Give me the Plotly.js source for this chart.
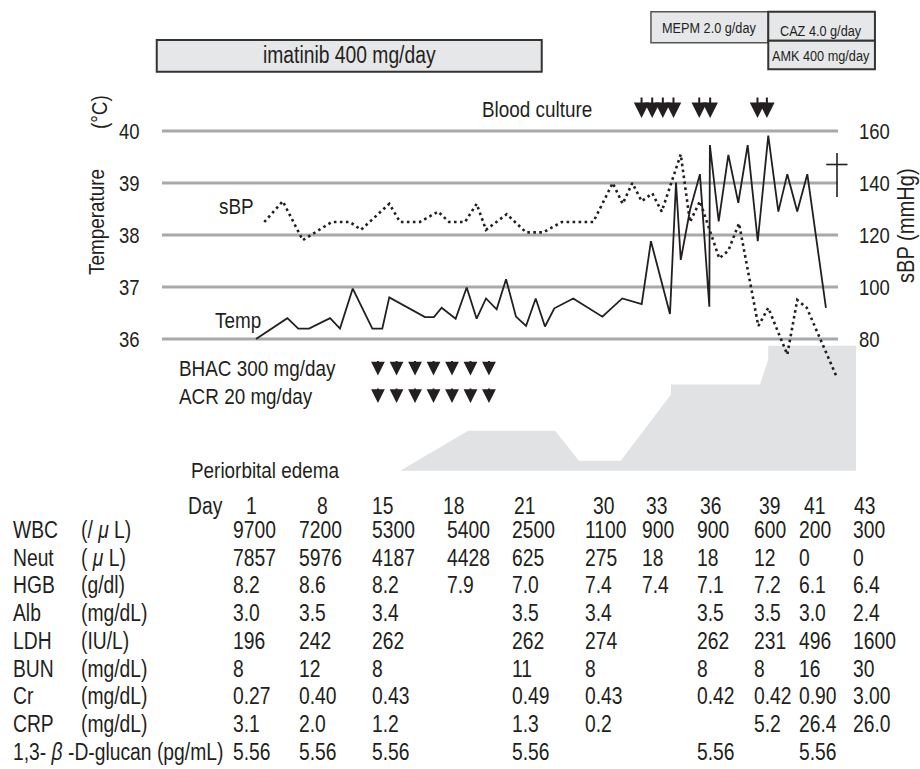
<!DOCTYPE html>
<html><head><meta charset="utf-8">
<script src="https://cdn.plot.ly/plotly-3.0.1.min.js"></script>
<style>html,body{margin:0;padding:0;background:#fff}</style>
</head><body><div id="chart" style="width:920px;height:769px"></div>
<script>
// ---------------- data ----------------
const tempDays = [1.0, 3.24, 4.02, 4.79, 6.29, 7.0, 7.91, 9.31, 10.02, 10.52, 13.07, 13.71, 14.26, 15.26, 16.05, 16.76, 17.43, 18.19, 18.86, 19.57, 20.29, 20.98, 21.64, 22.31, 23.66, 25.74, 27.16, 28.55, 29.21, 30.57, 31.0, 31.34, 32.0, 32.71, 33.38, 33.42, 34.05, 34.74, 35.45, 36.12, 36.84, 37.59, 38.31, 38.95, 39.66, 40.38, 41.71];
const tempValues = [36.0, 36.4, 36.2, 36.2, 36.4, 36.2, 36.97, 36.2, 36.2, 36.8, 36.42, 36.42, 36.6, 36.39, 36.99, 36.39, 36.78, 36.57, 37.15, 36.43, 36.25, 36.78, 36.24, 36.59, 36.78, 36.43, 36.78, 36.67, 37.88, 36.48, 39.01, 37.52, 38.48, 39.17, 36.62, 39.73, 38.26, 39.54, 38.62, 39.73, 37.88, 39.91, 38.45, 39.17, 38.45, 39.17, 36.6];
const sbpDays = [1.59, 2.91, 4.34, 6.41, 7.71, 8.5, 10.52, 11.29, 12.71, 14.0, 14.79, 15.93, 16.76, 17.43, 18.91, 20.29, 21.52, 22.84, 25.09, 26.48, 27.19, 27.88, 28.55, 29.31, 29.98, 31.34, 32.0, 32.71, 34.09, 34.74, 35.5, 36.88, 37.59, 38.95, 39.66, 40.34, 42.43];
const sbpValues = [125, 133, 118, 125, 125, 122, 132, 125, 125, 129, 125, 125, 132, 122, 128, 121, 121, 125, 125, 140, 132, 140, 133, 136, 129, 151, 125, 133, 111, 114, 124.5, 85, 92, 74, 95, 92, 66];
const edemaDays = [11.29, 16.16, 22.36, 24.07, 27.05, 30.64, 30.64, 37.0, 37.59, 37.59, 43.86];
const edemaGrade = [0, 0.32, 0.32, 0.08, 0.08, 0.61, 0.69, 0.69, 0.89, 1.0, 1.0];
const bloodCultureDays = [28.54, 29.3, 30.06, 30.82, 32.66, 33.44, 36.82, 37.49];
const bhacDays = [9.71, 11.04, 12.36, 13.68, 15.0, 16.32, 17.64];
const acrDays = [9.71, 11.04, 12.36, 13.68, 15.0, 16.32, 17.64];
const deathDay = 42.5;
const drugNames = ['imatinib 400 mg/day', 'MEPM 2.0 g/day', 'CAZ 4.0 g/day', 'AMK 400 mg/day'];
const drugStart = [-6.09, 29.21, 37.59, 37.59];
const drugEnd = [21.41, 37.59, 45.21, 45.21];
const tempTicks = [36, 37, 38, 39, 40];
const sbpTicks = [80, 100, 120, 140, 160];

const tableDays = ['1', '8', '15', '18', '21', '30', '33', '36', '39', '41', '43'];
const labNames = ['WBC', 'Neut', 'HGB', 'Alb', 'LDH', 'BUN', 'Cr', 'CRP', '1,3- <i>β</i> -D-glucan (pg/mL)'];
const labUnits = ['(/ <i>μ</i> L)', '( <i>μ</i> L)', '(g/dl)', '(mg/dL)', '(IU/L)', '(mg/dL)', '(mg/dL)', '(mg/dL)', ''];
const WBC = ['9700', '7200', '5300', '5400', '2500', '1100', '900', '900', '600', '200', '300'];
const Neut = ['7857', '5976', '4187', '4428', '625', '275', '18', '18', '12', '0', '0'];
const HGB = ['8.2', '8.6', '8.2', '7.9', '7.0', '7.4', '7.4', '7.1', '7.2', '6.1', '6.4'];
const Alb = ['3.0', '3.5', '3.4', '', '3.5', '3.4', '', '3.5', '3.5', '3.0', '2.4'];
const LDH = ['196', '242', '262', '', '262', '274', '', '262', '231', '496', '1600'];
const BUN = ['8', '12', '8', '', '11', '8', '', '8', '8', '16', '30'];
const Cr = ['0.27', '0.40', '0.43', '', '0.49', '0.43', '', '0.42', '0.42', '0.90', '3.00'];
const CRP = ['3.1', '2.0', '1.2', '', '1.3', '0.2', '', '', '5.2', '26.4', '26.0'];
const Glucan = ['5.56', '5.56', '5.56', '', '5.56', '', '', '5.56', '', '5.56', ''];
const labRows = [WBC, Neut, HGB, Alb, LDH, BUN, Cr, CRP, Glucan];

// ---------------- layout helpers ----------------
const W = 920, H = 769;
const X0 = 242, XK = 14;             // pixel of day 0, pixels per day
const dayAt = px => (px - X0) / XK;
const PT = 90, PB = 471;             // vertical extent of the chart axes (px)
const tAt = py => 40 - (py - 131) / 52;
const sAt = py => 160 - (py - 131) / 2.6;
const eAt = py => (470.7 - py) / 125;
const fx = px => px / W;
const fy = py => 1 - py / H;

function hasFont(name) {
  const c = document.createElement('canvas').getContext('2d');
  const s = 'abcdefghijklmnopqrstuvwxyz ABCDEFGHIJ 0123456789';
  c.font = '40px monospace'; const w1 = c.measureText(s).width;
  c.font = '40px "' + name + '", monospace'; const w2 = c.measureText(s).width;
  return Math.abs(w1 - w2) > 0.5;
}
const narrow = hasFont('Liberation Sans Narrow');
const FAM = narrow ? '"Liberation Sans Narrow", "Arial Narrow", sans-serif' : '"Liberation Sans", Arial, sans-serif';
const SC = narrow ? 1 : 0.82;        // width matching
const STRETCH = narrow ? 1 : 1.2;    // vertical glyph stretch of the original type
const INK = '#231f20';
const f = s => ({family: FAM, size: Math.round(s * SC * 10) / 10, color: INK});

// ---------------- traces ----------------
const traces = [
  {x: edemaDays, y: edemaGrade, xaxis: 'x', yaxis: 'y', mode: 'lines', fill: 'tozeroy',
   fillcolor: '#e1e2e4', line: {width: 0, color: '#e1e2e4'}, hoverinfo: 'skip', showlegend: false},
  {x: tempDays, y: tempValues, xaxis: 'x', yaxis: 'y2', mode: 'lines',
   line: {color: INK, width: 1.8}, showlegend: false, name: 'Temp'},
  {x: sbpDays, y: sbpValues, xaxis: 'x', yaxis: 'y3', mode: 'lines',
   line: {color: INK, width: 2.6, dash: '2.6px,3.4px'}, showlegend: false, name: 'sBP'}
];

// ---------------- shapes ----------------
const shapes = [];
tempTicks.forEach(t => shapes.push({type: 'line', xref: 'x', yref: 'y2', x0: dayAt(162), x1: dayAt(838), y0: t, y1: t,
  line: {color: '#a7a9ac', width: 3}, layer: 'below'}));
const boxY = [[40, 71.7], [11.7, 42.7], [11.7, 40.7], [40.7, 69.3]];
const boxLine = [{color: '#333', width: 2}, {color: '#555', width: 1.5}, {color: '#333', width: 2}, {color: '#333', width: 2}];
drugNames.forEach((n, i) => shapes.push({type: 'rect', xref: 'x', yref: 'paper', x0: drugStart[i], x1: drugEnd[i],
  y0: fy(boxY[i][1]), y1: fy(boxY[i][0]), fillcolor: '#e6e7e8', line: boxLine[i], layer: 'above'}));
// death cross
shapes.push({type: 'line', xref: 'x', yref: 'paper', x0: deathDay, x1: deathDay, y0: fy(153), y1: fy(197), line: {color: INK, width: 1.6}});
shapes.push({type: 'line', xref: 'x', yref: 'paper', x0: deathDay - 0.77, x1: deathDay + 0.75, y0: fy(164.5), y1: fy(164.5), line: {color: INK, width: 1.6}});

// ---------------- annotations ----------------
const ann = [];
const txt = (text, px, py, size, opts) => ann.push(Object.assign({text, x: fx(px), y: fy(py), xref: 'paper', yref: 'paper',
  showarrow: false, font: f(size), xanchor: 'center', yanchor: 'middle'}, opts || {}));

// drug box labels
const boxCx = [349, 709, 821, 821], boxCy = [56, 28, 31, 56], boxFs = [23.5, 15.5, 15.5, 15.5];
drugNames.forEach((n, i) => txt(n, boxCx[i], boxCy[i], boxFs[i]));

// axis tick labels
tempTicks.forEach(t => ann.push({text: String(t), x: fx(142), y: t, xref: 'paper', yref: 'y2', showarrow: false,
  font: f(22.5), xanchor: 'right', yanchor: 'middle'}));
sbpTicks.forEach(s => ann.push({text: String(s), x: fx(857), y: s, xref: 'paper', yref: 'y3', showarrow: false,
  font: f(22.5), xanchor: 'left', yanchor: 'middle'}));

// arrows (blood culture, BHAC, ACR)
const arrow = (d, py, len, size) => ann.push({x: d, y: tAt(py), xref: 'x', yref: 'y2', text: '', showarrow: true,
  arrowhead: 2, arrowsize: size, arrowwidth: 2, arrowcolor: INK, ax: 0, ay: -len, standoff: 0});
bloodCultureDays.forEach(d => arrow(d, 118, 22, 1.55));
bhacDays.forEach(d => arrow(d, 375.5, 16, 1.38));
acrDays.forEach(d => arrow(d, 403, 16, 1.38));

// labels
txt('(°C)', 100, 112, 23, {textangle: -90});
txt('Temperature', 97, 222, 23, {textangle: -90});
txt('sBP (mmHg)', 906, 226, 24.5, {textangle: -90});
txt('sBP', 236, 206, 23);
txt('Temp', 238, 320, 23);
txt('Blood culture', 537, 109, 23);
txt('BHAC 300 mg/day', 177, 369, 23, {xanchor: 'left'});
txt('ACR 20 mg/day', 177, 396, 23, {xanchor: 'left'});
txt('Periorbital edema', 189, 470, 23, {xanchor: 'left'});

// table
const hdrX = [244, 315, 370, 441, 512, 591, 644, 698, 757, 802, 852];
const valX = [231, 297, 370, 445, 510, 583, 640, 695, 752, 797, 851];
txt('Day', 186, 506.5, 23.5, {xanchor: 'left'});
tableDays.forEach((d, j) => txt(d, hdrX[j], 506.5, 23.5, {xanchor: 'left'}));
labRows.forEach((row, i) => {
  const py = 530.5 + 27.7 * i;
  txt(labNames[i], 11, py, 23.5, {xanchor: 'left'});
  if (labUnits[i]) txt(labUnits[i], 79, py, 23.5, {xanchor: 'left'});
  row.forEach((v, j) => { if (v !== '') txt(v, valX[j], py, 23.5, {xanchor: 'left'}); });
});

// ---------------- layout ----------------
const layout = {
  width: W, height: H, margin: {l: 0, r: 0, t: 0, b: 0},
  paper_bgcolor: '#ffffff', plot_bgcolor: 'rgba(0,0,0,0)', showlegend: false,
  xaxis: {domain: [0, 1], range: [dayAt(0), dayAt(W)], visible: false, fixedrange: true},
  yaxis: {domain: [fy(PB), fy(PT)], range: [eAt(PB), eAt(PT)], showgrid: false, zeroline: false,
          showticklabels: false, showline: false, ticks: '', fixedrange: true},
  yaxis2: {overlaying: 'y', anchor: 'free', position: fx(162), side: 'left', range: [tAt(PB), tAt(PT)],
           showticklabels: false, ticks: '', showgrid: false, zeroline: false, showline: false, fixedrange: true},
  yaxis3: {overlaying: 'y', anchor: 'free', position: fx(838), side: 'right', range: [sAt(PB), sAt(PT)],
           showticklabels: false, ticks: '', showgrid: false, zeroline: false, showline: false, fixedrange: true},
  shapes: shapes,
  annotations: ann
};

Plotly.newPlot('chart', traces, layout, {staticPlot: true, displayModeBar: false}).then(gd => {
  if (STRETCH === 1) return;
  gd.querySelectorAll('text.annotation-text').forEach(t => {
    const b = t.getBBox();
    const cy = b.y + b.height / 2;
    t.setAttribute('transform', 'translate(0 ' + cy + ') scale(1 ' + STRETCH + ') translate(0 ' + (-cy) + ')');
  });
});
</script>
</body></html>
